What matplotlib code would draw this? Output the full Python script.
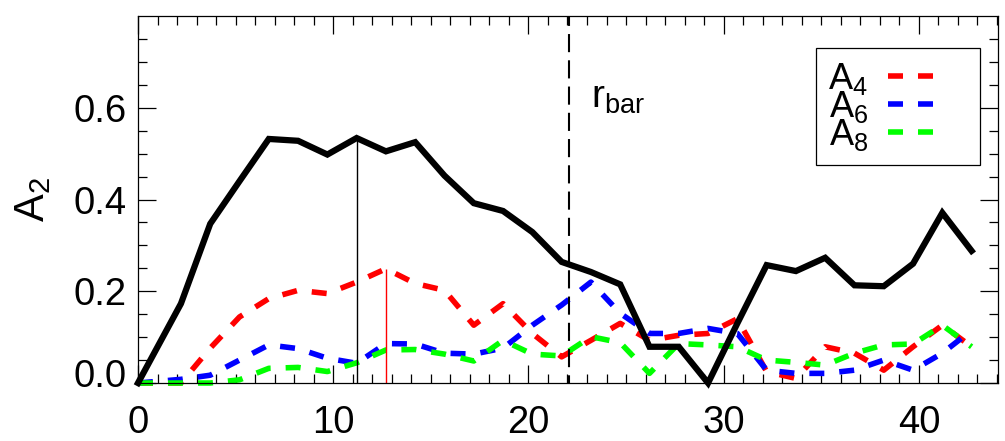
import numpy as np
import matplotlib
matplotlib.use("Agg")
import matplotlib.pyplot as plt
from matplotlib.ticker import MultipleLocator, FixedLocator
from matplotlib.lines import Line2D
import matplotlib.transforms as mtrans

plt.rcParams['font.family'] = ['Liberation Sans', 'DejaVu Sans']
plt.rcParams['mathtext.default'] = 'regular'

# radius and Fourier amplitudes
r = [0, 2.2, 3.7, 5.2, 6.7, 8.2, 9.7, 11.2, 12.7, 14.2, 15.7, 17.2, 18.7, 20.2,
     21.7, 23.2, 24.7, 26.2, 27.7, 29.2, 30.7, 32.2, 33.7, 35.2, 36.7, 38.2,
     39.7, 41.2, 42.7]
a2 = [0.0, 0.173, 0.347, 0.44, 0.532, 0.528, 0.498, 0.534, 0.505, 0.525, 0.452,
      0.392, 0.375, 0.329, 0.264, 0.242, 0.215, 0.079, 0.079, 0.0, 0.13, 0.257,
      0.244, 0.273, 0.213, 0.211, 0.26, 0.371, 0.288]
a4 = [0.0, 0.0, 0.076, 0.144, 0.184, 0.202, 0.195, 0.22, 0.249, 0.217, 0.202,
      0.126, 0.173, 0.108, 0.057, 0.093, 0.13, 0.093, 0.104, 0.108, 0.14, 0.025,
      0.01, 0.079, 0.065, 0.028, 0.079, 0.126, 0.079]
a6 = [0.0, 0.008, 0.017, 0.05, 0.083, 0.075, 0.054, 0.043, 0.086, 0.085, 0.065,
      0.063, 0.076, 0.126, 0.17, 0.22, 0.152, 0.108, 0.108, 0.119, 0.108, 0.028,
      0.021, 0.021, 0.028, 0.05, 0.028, 0.065, 0.115]
a8 = [0.0, 0.0, 0.0, 0.007, 0.032, 0.034, 0.025, 0.044, 0.072, 0.073, 0.063,
      0.048, 0.093, 0.063, 0.059, 0.101, 0.088, 0.021, 0.086, 0.083, 0.079, 0.05,
      0.045, 0.039, 0.065, 0.083, 0.085, 0.126, 0.079]

labels = ['A$_4$', 'A$_6$', 'A$_8$']
colors = ['#ff0000', '#0000ff', '#00ff00']

r_peak2, a2_peak = 11.2, 0.534
r_peak4, a4_peak = 12.7, 0.249
r_bar = 22.1

fig = plt.figure(figsize=(10.05, 4.41), dpi=100)
ax = fig.add_axes([0.1373, 0.1315, 0.8557, 0.8322])

dash = (0, (2.7, 2.7))
ax.plot(r, a2, color='black', lw=4.5, solid_joinstyle='miter', clip_on=False, zorder=5)
for y, c in zip([a4, a6, a8], colors):
    ax.plot(r, y, color=c, lw=4, ls=dash, dash_capstyle='butt', clip_on=False)

ax.vlines(r_peak2, 0, a2_peak, color='black', lw=1)
ax.vlines(r_peak4, 0, a4_peak, color='#ff0000', lw=1)
ax.axvline(r_bar, color='black', lw=1.5, ls=(5, (8.7, 3.9)))

ax.text(23.2, 0.6, r'r$_{bar}$', fontsize=28, ha='left', va='baseline')

ax.set_xlim(0, 44.05)
ax.set_ylim(0, 0.8)
ax.xaxis.set_major_locator(FixedLocator([0, 10, 20, 30, 40]))
ax.xaxis.set_minor_locator(MultipleLocator(1))
ax.yaxis.set_major_locator(FixedLocator([0, 0.2, 0.4, 0.6]))
ax.yaxis.set_minor_locator(FixedLocator(np.arange(0.05, 0.8, 0.05)))
ax.set_yticklabels(['0.0', '0.2', '0.4', '0.6'])

ax.tick_params(which='both', direction='in', top=True, right=True, width=0.9,
               labelsize=27.5)
ax.tick_params(which='major', length=13)
ax.tick_params(which='minor', length=6.5)
ax.tick_params(axis='x', pad=15.5)
ax.tick_params(axis='y', pad=8)
for s in ax.spines.values():
    s.set_linewidth(0.9)

# lift the 0.0 label a little, as in the original
lab0 = ax.get_yticklabels()[0]
lab0.set_transform(lab0.get_transform() + mtrans.ScaledTranslation(0, 10 / 100, fig.dpi_scale_trans))

ax.set_ylabel('A$_2$', fontsize=30, labelpad=15)

# legend keys: two dashes, then empty space to the frame
handles = [Line2D([], [], color=c, lw=4, ls=(0, (2.7, 2.7, 2.7, 20)),
                  dash_capstyle='butt') for c in colors]
leg = ax.legend(handles, labels, loc='upper right', bbox_to_anchor=(0.979, 0.913),
                fontsize=26, markerfirst=False, handlelength=2.2, handletextpad=0.55,
                labelspacing=-0.22, borderaxespad=0, fancybox=False,
                edgecolor='black', framealpha=1, borderpad=0.35)
leg.get_frame().set_linewidth(0.9)

fig.savefig('out.png', dpi=100)
